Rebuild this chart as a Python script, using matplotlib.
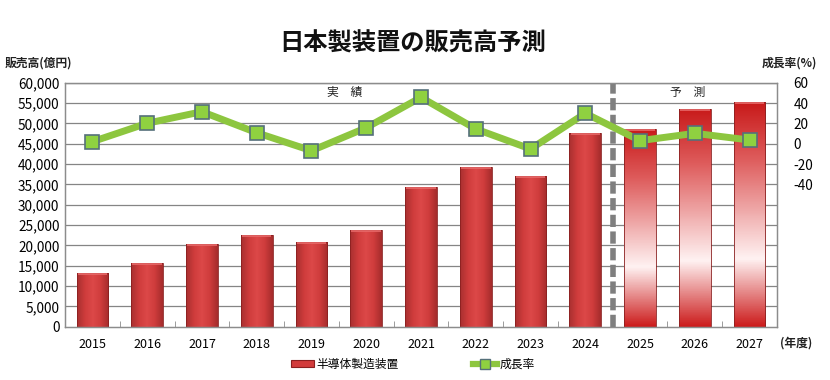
import matplotlib
matplotlib.use("Agg")
import matplotlib.pyplot as plt
import numpy as np
from matplotlib.colors import LinearSegmentedColormap
from matplotlib.lines import Line2D
from matplotlib.patches import Patch

plt.rcParams['font.family'] = ['Noto Sans CJK JP', 'DejaVu Sans']

years = ['2015', '2016', '2017', '2018', '2019', '2020', '2021',
         '2022', '2023', '2024', '2025', '2026', '2027']
sales = [13130, 15740, 20410, 22620, 20900, 23850, 34430,
         39340, 37130, 47700, 48690, 53610, 55250]
growth = [2.0, 20.1, 31.5, 10.8, -6.9, 15.7, 45.6,
          14.5, -5.2, 29.9, 3.0, 10.2, 3.6]
n_actual = 10
left_ticks = list(range(0, 60001, 5000))
right_ticks = [-40, -20, 0, 20, 40, 60]

fig = plt.figure(figsize=(8.3, 3.8), dpi=100)
ax = fig.add_axes([65/830, 1-326.7/380, (777-65)/830, (326.7-82.7)/380])
ax2 = ax.twinx()

x = np.arange(len(years))
width = 0.58
ax.set_xlim(-0.5, len(years)-0.5)
ax.set_ylim(0, 60000)
ax2.set_ylim(-180, 60)

for v in left_ticks[1:]:
    ax.axhline(v, color='#858585', lw=0.9, zorder=0)

act_cmap = LinearSegmentedColormap.from_list('act', ['#a83030', '#cf3c3c', '#dc4848', '#cf3c3c', '#a52c2c'])
fc_cmap = LinearSegmentedColormap.from_list('fc', [(0, '#c81a1a'), (0.25, '#de5c5c'), (0.70, '#fff2f2'), (1.0, '#cc1c1c')])

bars = ax.bar(x, sales, width=width, color='none', edgecolor='#8a2020', lw=0.6, zorder=2)
for i, b in enumerate(bars):
    x0, y0, w, h = b.get_x(), b.get_y(), b.get_width(), b.get_height()
    if i < n_actual:
        grad = np.linspace(0, 1, 64)[None, :]
        grad = np.repeat(grad, 2, axis=0)
    else:
        grad = np.linspace(1, 0, 128)[:, None]
        grad = np.repeat(grad, 2, axis=1)
    im = ax.imshow(grad, cmap=act_cmap if i < n_actual else fc_cmap, aspect='auto',
                   extent=[x0, x0+w, y0, y0+h], origin='lower', zorder=1.5)
    im.set_clip_path(b)
    ax.plot([x0+0.02, x0+w-0.02], [y0+h-250, y0+h-250], color='#e86a6a', lw=1.2, zorder=2.1,
            solid_capstyle='butt')
ax.set_xlim(-0.5, len(years)-0.5)

ax.axvline(n_actual-0.5, color='#7f7f7f', lw=4, ls=(0, (2.2, 0.8)), zorder=3)

ax.text(4.6, 57600, '実　績', ha='center', va='center', fontsize=8.5, color='#222222')
ax.text(10.87, 57600, '予　測', ha='center', va='center', fontsize=8.5, color='#222222')

ax2.plot(x, growth, color='#8dc63f', lw=5, zorder=4, solid_capstyle='round',
         solid_joinstyle='round')
ax2.plot(x, growth, ls='none', marker='s', ms=10, mfc='#8fd140', mec='#55707a', mew=1.2, zorder=5)

ax.set_xticks(x)
ax.set_xticklabels(years, fontsize=9)
ax.set_xticks(np.arange(-0.5, len(years), 1), minor=True)
ax.tick_params(axis='x', which='major', length=0, pad=8)
ax.tick_params(axis='x', which='minor', direction='in', length=4, color='#8c8c8c')
ax.set_yticks(left_ticks)
ax.set_yticklabels([f'{v:,}' for v in left_ticks], fontsize=9.8)
ax.tick_params(axis='y', length=0, pad=4)
ax2.set_yticks(right_ticks)
ax2.set_yticklabels([str(v) for v in right_ticks], fontsize=9.8)
ax2.tick_params(axis='y', length=0, pad=12)

for a in (ax, ax2):
    for s in a.spines.values():
        s.set_color('#8c8c8c')
        s.set_linewidth(0.9)

fig.text(0.497, 0.885, '日本製装置の販売高予測', ha='center', va='center', fontsize=17.5,
         fontweight='bold', color='#111111')
fig.text(5/830, 1-63/380, '販売高(億円)', ha='left', va='center', fontsize=8.5, fontweight='bold', color='#222222')
fig.text(817/830, 1-63/380, '成長率(%)', ha='right', va='center', fontsize=8.5, fontweight='bold', color='#222222')
fig.text(780/830, 1-343/380, '(年度)', ha='left', va='center', fontsize=8.5, fontweight='bold', color='#222222')

handles = [Patch(facecolor='#d23c3c', edgecolor='#8a2020', lw=0.8),
           Line2D([0], [0], color='#8dc63f', lw=4.5, marker='s', ms=7, mfc='#8fd140', mec='#55707a')]
fig.legend(handles, ['半導体製造装置', '成長率'], loc='center', bbox_to_anchor=(0.497, 1-364/380),
           ncol=2, frameon=False, fontsize=8.5, columnspacing=6.3, handlelength=2.0,
           handleheight=0.6, handletextpad=0.2)

fig.savefig('out.png', dpi=100, facecolor='white')
